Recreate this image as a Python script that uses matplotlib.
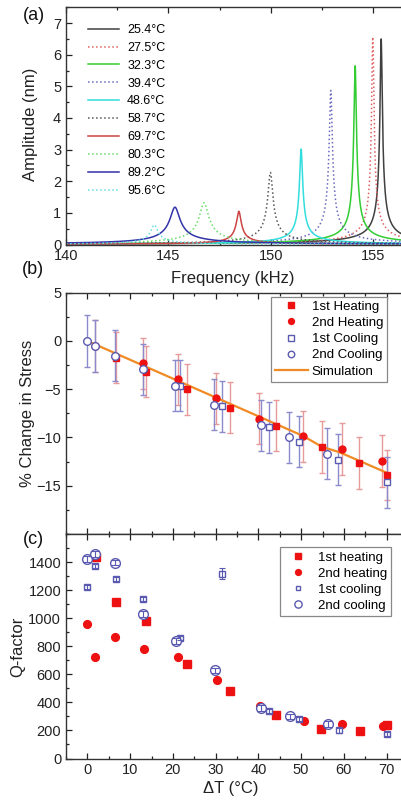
import numpy as np
import matplotlib
matplotlib.use('Agg')
import matplotlib.pyplot as plt
from matplotlib.ticker import MultipleLocator

plt.rcParams['font.family'] = ['Liberation Sans', 'DejaVu Sans']
plt.rcParams['axes.linewidth'] = 1.0

# ---------------- Panel (a): resonance spectra ----------------
temps_a = ['25.4°C', '27.5°C', '32.3°C', '39.4°C', '48.6°C',
           '58.7°C', '69.7°C', '80.3°C', '89.2°C', '95.6°C']
peak_freq = [155.39, 154.98, 154.12, 152.93, 151.48, 149.98, 148.44, 146.74, 145.32, 144.31]
peak_amp = [6.50, 6.56, 5.65, 4.87, 3.02, 2.28, 1.05, 1.32, 1.18, 0.62]
peak_q = [1500, 1500, 1350, 1100, 1100, 670, 700, 350, 320, 450]
colors_a = ['#404040', '#e06060', '#33cc33', '#6a6ac0', '#33dddd',
            '#555555', '#cc4444', '#66dd66', '#3333aa', '#66e0e0']
styles_a = ['-', ':', '-', ':', '-', ':', '-', ':', '-', ':']

# ---------------- Panel (b): % change in stress ----------------
heat1_T_b = [6.8, 13.8, 23.2, 33.3, 44.1, 54.8, 63.6, 70.0]
heat1_b = [-1.73, -3.19, -5.02, -6.93, -8.80, -10.98, -12.65, -13.90]
heat1_err_b = [2.65, 2.65, 2.65, 2.65, 2.65, 2.65, 2.65, 2.60]
heat2_T_b = [1.9, 13.0, 21.1, 30.2, 40.2, 50.4, 59.5, 69.0]
heat2_b = [-0.52, -2.32, -3.98, -5.96, -8.04, -9.88, -11.19, -12.44]
heat2_err_b = [2.70, 2.65, 2.65, 2.65, 2.65, 2.65, 2.65, 2.65]
cool1_T_b = [21.6, 31.5, 42.5, 49.5, 58.7, 70.0]
cool1_b = [-4.64, -6.79, -8.94, -10.43, -12.30, -14.66]
cool1_err_b = [2.65, 2.65, 2.65, 2.65, 2.65, 2.65]
cool2_T_b = [0.0, 1.9, 6.4, 12.9, 20.6, 29.7, 40.5, 47.2, 56.1]
cool2_b = [0.0, -0.52, -1.53, -2.95, -4.64, -6.59, -8.73, -10.00, -11.68]
cool2_err_b = [2.65, 2.70, 2.65, 2.65, 2.65, 2.65, 2.65, 2.65, 2.65]
sim_T = [0.0, 50.5, 54.8, 59.1, 70.0]
sim_b = [0.0, -9.85, -10.95, -11.55, -13.65]

# ---------------- Panel (c): Q-factor ----------------
heat1_T_c = [2.1, 6.8, 13.8, 23.2, 33.3, 44.2, 54.7, 63.7, 70.1]
heat1_c = [1435, 1117, 978, 675, 484, 307, 212, 198, 241]
heat2_T_c = [0.0, 1.9, 6.4, 13.2, 21.1, 30.3, 40.3, 50.6, 59.6, 69.2]
heat2_c = [956, 723, 869, 779, 725, 560, 371, 269, 243, 234]
cool1_T_c = [0.0, 1.9, 6.6, 12.9, 21.6, 31.6, 42.5, 49.6, 58.9, 70.0]
cool1_c = [1223, 1370, 1280, 1136, 857, 1318, 337, 283, 200, 174]
cool1_err_c = [15, 15, 15, 15, 15, 40, 15, 15, 15, 15]
cool2_T_c = [0.0, 1.9, 6.4, 13.1, 20.8, 29.8, 40.7, 47.4, 56.3]
cool2_c = [1424, 1459, 1396, 1032, 838, 628, 359, 300, 248]
cool2_err_c = [20, 20, 20, 20, 20, 20, 20, 20, 20]

RED = '#ee1111'
BLUE = '#5a5ab0'
RED_ERR = '#e89a9a'
BLUE_ERR = '#8a8acc'

W, H = 401, 802
fig = plt.figure(figsize=(W / 100, H / 100), dpi=100)


def fx(px):
    return px / W


def fy(py):
    return 1 - py / H


left = fx(66)
width = fx(408) - fx(66)
ax_a = fig.add_axes([left, fy(244.5), width, fy(7.3) - fy(244.5)])
ax_b = fig.add_axes([left, fy(534), width, fy(292.7) - fy(534)])
ax_c = fig.add_axes([left, fy(758.5), width, fy(534) - fy(758.5)])

for ax in (ax_a, ax_b, ax_c):
    ax.tick_params(which='both', direction='in', top=True, right=True,
                   labelsize=10.5, width=0.9, colors='#222222')
    ax.tick_params(which='major', length=4.5)
    ax.tick_params(which='minor', length=2.5)
    for s in ax.spines.values():
        s.set_color('#333333')

# ---- (a)
f = np.linspace(140, 158, 6000)
for lab, f0, a0, q, c, ls in zip(temps_a, peak_freq, peak_amp, peak_q, colors_a, styles_a):
    amp = a0 / np.sqrt(1 + (2 * q * (f - f0) / f0) ** 2)
    ax_a.plot(f, amp, color=c, ls=ls, lw=1.1, label=lab)
ax_a.set_xlim(140, 156.7)
ax_a.set_ylim(0, 7.5)
ax_a.xaxis.set_major_locator(MultipleLocator(5))
ax_a.xaxis.set_minor_locator(MultipleLocator(2.5))
ax_a.yaxis.set_major_locator(MultipleLocator(1))
ax_a.yaxis.set_minor_locator(MultipleLocator(0.5))
ax_a.legend(loc='upper left', bbox_to_anchor=(fx(87.7), fy(24)),
            bbox_transform=fig.transFigure, frameon=False, fontsize=9,
            handlelength=2.5, handletextpad=0.65, labelspacing=0.47,
            borderpad=0, borderaxespad=0)

# ---- (b)
eb_kw = dict(fmt='none', elinewidth=1, capsize=2.2, capthick=1, zorder=2)
ax_b.errorbar(heat1_T_b, heat1_b, yerr=heat1_err_b, ecolor=RED_ERR, **eb_kw)
ax_b.errorbar(heat2_T_b, heat2_b, yerr=heat2_err_b, ecolor=RED_ERR, **eb_kw)
ax_b.errorbar(cool1_T_b, cool1_b, yerr=cool1_err_b, ecolor=BLUE_ERR, **eb_kw)
ax_b.errorbar(cool2_T_b, cool2_b, yerr=cool2_err_b, ecolor=BLUE_ERR, **eb_kw)
ax_b.plot(sim_T, sim_b, color='#f08a24', lw=1.6, zorder=3)
h1, = ax_b.plot(heat1_T_b, heat1_b, 's', color=RED, ms=5, mec=RED, zorder=4, label='1st Heating')
h2, = ax_b.plot(heat2_T_b, heat2_b, 'o', color=RED, ms=5, mec=RED, zorder=4, label='2nd Heating')
c1, = ax_b.plot(cool1_T_b, cool1_b, 's', mfc='white', mec=BLUE, ms=5, mew=1, zorder=5, label='1st Cooling')
c2, = ax_b.plot(cool2_T_b, cool2_b, 'o', mfc='white', mec=BLUE, ms=5.5, mew=1, zorder=5, label='2nd Cooling')
sim_handle, = ax_b.plot([], [], color='#f08a24', lw=1.6, label='Simulation')
ax_b.set_xlim(-5, 75)
ax_b.set_ylim(-20, 5)
ax_b.xaxis.set_major_locator(MultipleLocator(10))
ax_b.xaxis.set_minor_locator(MultipleLocator(5))
ax_b.set_yticks([-15, -10, -5, 0, 5])
ax_b.yaxis.set_minor_locator(MultipleLocator(2.5))
ax_b.tick_params(labelbottom=False)
leg_b = ax_b.legend(handles=[h1, h2, c1, c2, sim_handle], loc='upper left',
                    bbox_to_anchor=(fx(271), fy(296.7)), bbox_transform=fig.transFigure,
                    fontsize=9.5, handlelength=2.5, handletextpad=0.3, labelspacing=0.3,
                    borderpad=0.3, borderaxespad=0, fancybox=False, framealpha=1,
                    edgecolor='#888888', markerscale=0.85)
leg_b.get_frame().set_linewidth(0.9)

# ---- (c)
ax_c.errorbar(cool1_T_c, cool1_c, yerr=cool1_err_c, fmt='none', ecolor=BLUE,
              elinewidth=0.8, capsize=2.5, capthick=0.8, zorder=6)
ax_c.errorbar(cool2_T_c, cool2_c, yerr=cool2_err_c, fmt='none', ecolor=BLUE,
              elinewidth=0.8, capsize=3.2, capthick=0.8, zorder=6)
q1, = ax_c.plot(heat1_T_c, heat1_c, 's', color=RED, ms=5.2, mec=RED, zorder=3, label='1st heating')
q2, = ax_c.plot(heat2_T_c, heat2_c, 'o', color=RED, ms=5.6, mec=RED, zorder=3, label='2nd heating')
q3, = ax_c.plot(cool1_T_c, cool1_c, 's', mfc='white', mec=BLUE, ms=4.8, mew=1, zorder=5, label='1st cooling')
q4, = ax_c.plot(cool2_T_c, cool2_c, 'o', mfc='white', mec=BLUE, ms=7, mew=1, zorder=5, label='2nd cooling')
ax_c.set_xlim(-5, 75)
ax_c.set_ylim(0, 1600)
ax_c.xaxis.set_major_locator(MultipleLocator(10))
ax_c.xaxis.set_minor_locator(MultipleLocator(5))
ax_c.set_yticks(list(range(0, 1401, 200)))
ax_c.yaxis.set_minor_locator(MultipleLocator(100))
leg_c = ax_c.legend(handles=[q1, q2, q3, q4], loc='upper left',
                    bbox_to_anchor=(fx(280), fy(547)), bbox_transform=fig.transFigure,
                    fontsize=9.5, handlelength=2.0, handletextpad=0.5, labelspacing=0.28,
                    borderpad=0.35, borderaxespad=0, fancybox=False, framealpha=1,
                    edgecolor='#888888', markerscale=0.75)
leg_c.get_frame().set_linewidth(0.9)

# ---- labels
lab_kw = dict(fontsize=12, color='#222222')
fig.text(fx(30), fy(124), 'Amplitude (nm)', rotation=90, ha='center', va='center', **lab_kw)
fig.text(fx(233), fy(278), 'Frequency (kHz)', ha='center', va='center', **lab_kw)
fig.text(fx(28), fy(413), '% Change in Stress', rotation=90, ha='center', va='center', **lab_kw)
fig.text(fx(18), fy(647), 'Q-factor', rotation=90, ha='center', va='center', **lab_kw)
fig.text(fx(231), fy(789), 'ΔT (°C)', ha='center', va='center', **lab_kw)

pan_kw = dict(fontsize=13, color='#111111', ha='center', va='center')
fig.text(fx(34), fy(15), '(a)', **pan_kw)
fig.text(fx(33), fy(270), '(b)', **pan_kw)
fig.text(fx(33), fy(539), '(c)', **pan_kw)

fig.savefig('out.png', dpi=100)
